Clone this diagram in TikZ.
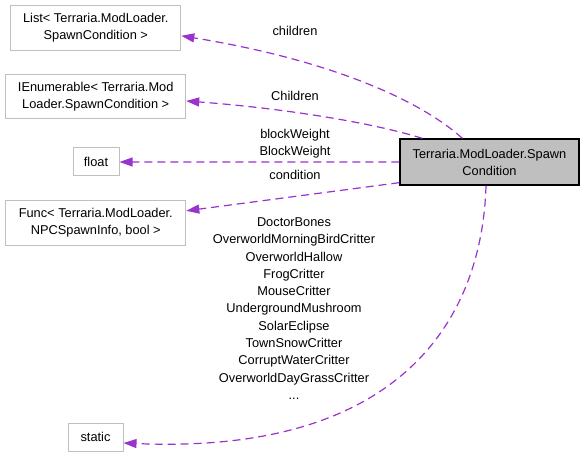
\documentclass[tikz,border=0pt]{standalone}
\usepackage{fontspec}
\setmainfont{Liberation Sans}
\usetikzlibrary{arrows.meta}
\definecolor{edgecol}{RGB}{154,50,205}
\definecolor{boxline}{RGB}{191,191,191}
\definecolor{mainfill}{RGB}{191,191,191}
\tikzset{
  cls/.style={draw=boxline, line width=1bp, fill=white, align=center, inner sep=0pt,
    font=\fontsize{12.8bp}{17bp}\selectfont},
  mainbox/.style={draw=black, line width=1.3bp, fill=mainfill, align=center, inner sep=0pt,
    font=\fontsize{12.8bp}{17bp}\selectfont},
  rel/.style={draw=edgecol, line width=1.2bp, dash pattern=on 8bp off 5bp,
    -{Triangle[length=13bp,width=9bp]}},
  lbl/.style={align=center, inner sep=0pt, font=\fontsize{12.8bp}{17.3bp}\selectfont}
}
\begin{document}
\begin{tikzpicture}[x=1bp,y=-1bp]
\useasboundingbox (0,0) rectangle (584,457);
\fill[white] (0,0) rectangle (584,457);

\node[cls, minimum width=170bp, minimum height=45bp] (list) at (95.8,27.8) {List\textless{} Terraria.ModLoader.\\SpawnCondition \textgreater};
\node[cls, minimum width=180bp, minimum height=44bp] (ienum) at (95.7,97) {IEnumerable\textless{} Terraria.Mod\\Loader.SpawnCondition \textgreater};
\node[cls, minimum width=46bp, minimum height=28bp] (float) at (96,161.5) {float};
\node[cls, minimum width=180bp, minimum height=45.5bp] (func) at (95.8,222.8) {Func\textless{} Terraria.ModLoader.\\NPCSpawnInfo, bool \textgreater};
\node[cls, minimum width=55bp, minimum height=28bp] (static) at (95.5,437) {static};
\node[mainbox, minimum width=179bp, minimum height=46bp] (main) at (489.5,162) {Terraria.ModLoader.Spawn\\Condition};

\coordinate (sChildren) at ([xshift=63bp]main.north west);
\coordinate (sChildrenB) at ([xshift=23bp]main.north west);
\coordinate (sCond) at ([yshift=3bp]main.south west);
\coordinate (sStatic) at ([xshift=-3.5bp]main.south);

\draw[rel] (sChildren) .. controls (420,100) and (330,60) .. ([yshift=-8bp]list.east);
\draw[rel] (sChildrenB) .. controls (370,122) and (280,108) .. ([yshift=-4bp]ienum.east);
\draw[rel] (main.west) -- ([yshift=-0.5bp]float.east);
\draw[rel] (sCond) -- ([yshift=12bp]func.east);
\draw[rel] (sStatic) .. controls (482,320) and (400,455) .. ([yshift=-6bp]static.east);

\node[lbl] (l1) at (295,31) {children};
\node[lbl] (l2) at (295,96) {Children};
\node[lbl] (l3) at (295,144) {blockWeight\\BlockWeight};
\node[lbl] (l4) at (295,175) {condition};
\node[lbl] (l5) at (294,308.5) {DoctorBones\\OverworldMorningBirdCritter\\OverworldHallow\\FrogCritter\\MouseCritter\\UndergroundMushroom\\SolarEclipse\\TownSnowCritter\\CorruptWaterCritter\\OverworldDayGrassCritter\\...};
\end{tikzpicture}
\end{document}
